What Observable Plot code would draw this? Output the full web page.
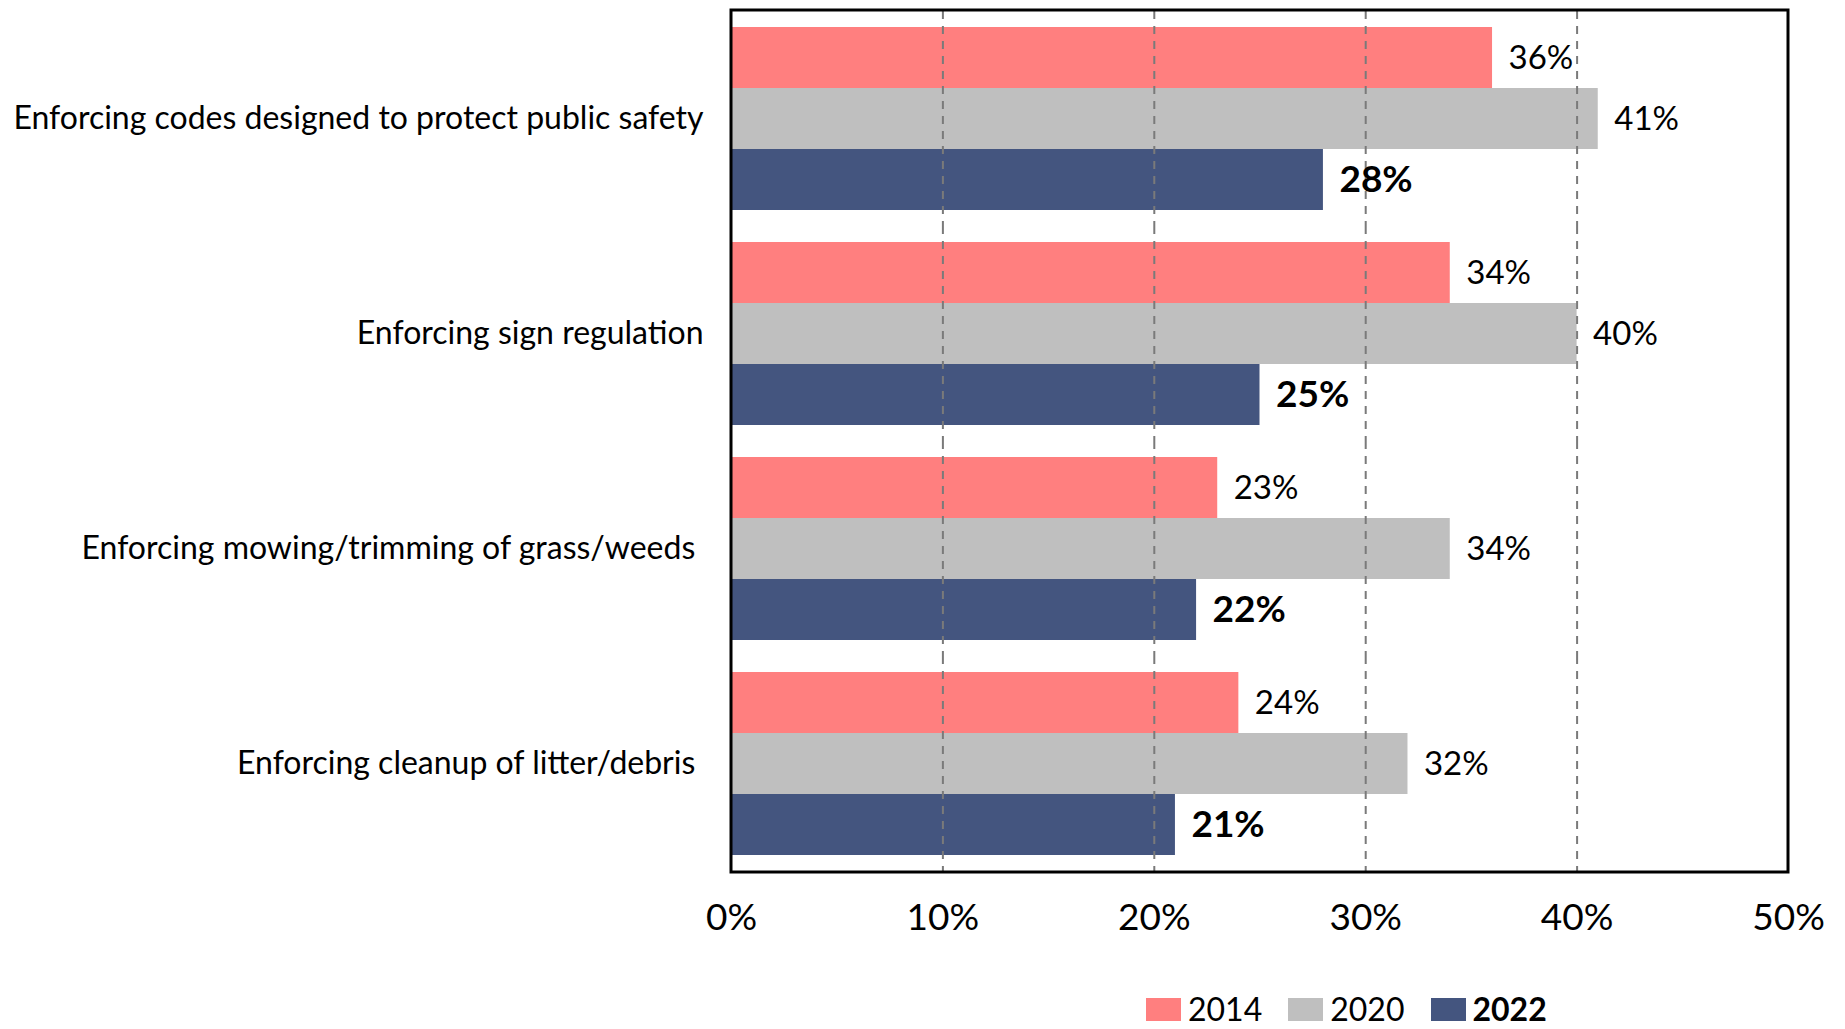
<!DOCTYPE html>
<html>
<head>
<meta charset="utf-8">
<script src="https://cdn.jsdelivr.net/npm/d3@7"></script>
<script src="https://cdn.jsdelivr.net/npm/@observablehq/plot@0.6"></script>
<style>
  html, body { margin: 0; padding: 0; background: #fff; }
  body { width: 1845px; height: 1029px; overflow: hidden; font-family: Lato, "Open Sans", sans-serif; }
  #chart svg text { white-space: pre; }
  [aria-label^="fy-axis"] text { font-size: 32px; fill: #000; }
  [aria-label^="x-axis"] text { font-size: 37px; fill: #000; }
  #legend { position: relative; margin-left: 1146px; margin-top: 18px; }
  #legend .lg-swatches, #legend div { margin: 0 !important; min-height: 0 !important; }
  #legend .lg-swatch { margin-right: 26px !important; display: inline-flex; align-items: center; line-height: 1; }
  #legend .lg-swatch svg { margin-right: 7px !important; }
</style>
</head>
<body>
<div id="chart"></div>
<div id="legend"></div>
<script>
const categories = [
  "Enforcing codes designed to protect public safety",
  "Enforcing sign regulation",
  "Enforcing mowing/trimming of grass/weeds ",
  "Enforcing cleanup of litter/debris "
];
const years = ["2014", "2020", "2022"];
const values2014 = [36, 34, 23, 24];
const values2020 = [41, 40, 34, 32];
const values2022 = [28, 25, 22, 21];
const xTicks = [0, 10, 20, 30, 40, 50];
const colors = ["#FF7F7F", "#BFBFBF", "#44557F"];

const series = {"2014": values2014, "2020": values2020, "2022": values2022};
const data = [];
categories.forEach((c, i) => years.forEach(y => data.push({category: c, year: y, value: series[y][i]})));

const plot = Plot.plot({
  width: 1845,
  height: 975,
  marginLeft: 731,
  marginRight: 57,
  marginTop: 10,
  marginBottom: 103,
  style: {fontFamily: "Lato, 'Open Sans', sans-serif", color: "#000", background: "#fff"},
  x: {domain: [0, 50], ticks: xTicks, tickFormat: d => d + "%", tickSize: 0, tickPadding: 32, label: null},
  y: {domain: years, paddingInner: 0, paddingOuter: 0.2586, axis: null},
  fy: {domain: categories, padding: 0, label: null, tickSize: 0, tickPadding: 28},
  color: {domain: years, range: colors},
  marks: [
    Plot.barX(data, {x: "value", y: "year", fy: "category", fill: "year"}),
    Plot.ruleX([10, 20, 30, 40], {stroke: "#7a7a7a", strokeWidth: 2, strokeDasharray: "8,7"}),
    Plot.text(data.filter(d => d.year !== "2022"), {
      x: "value", y: "year", fy: "category", text: d => d.value + "%",
      textAnchor: "start", dx: 16, fontSize: 33, fill: "#000"
    }),
    Plot.text(data.filter(d => d.year === "2022"), {
      x: "value", y: "year", fy: "category", text: d => d.value + "%",
      textAnchor: "start", dx: 16, fontSize: 37, fontWeight: "bold", fill: "#000"
    })
  ]
});
document.getElementById("chart").appendChild(plot);

// Outer frame drawn from the plot's own scales
const xs = plot.scale("x");
const fys = plot.scale("fy");
const fx0 = xs.apply(xTicks[0]);
const fx1 = xs.apply(xTicks[xTicks.length - 1]);
const [fy0, fy1] = fys.range;
d3.select(plot).append("rect")
  .attr("x", fx0).attr("y", fy0)
  .attr("width", fx1 - fx0).attr("height", fy1 - fy0)
  .attr("fill", "none").attr("stroke", "#000").attr("stroke-width", 3);

const legend = Plot.legend({
  color: {domain: years, range: colors},
  legend: "swatches",
  swatchWidth: 35,
  swatchHeight: 23,
  className: "lg",
  style: {fontFamily: "Lato, 'Open Sans', sans-serif", fontSize: "32px", color: "#000"}
});
document.getElementById("legend").appendChild(legend);
d3.select(legend).selectAll(".lg-swatch").filter((d, i) => i === 2).style("font-weight", "bold");
</script>
</body>
</html>
